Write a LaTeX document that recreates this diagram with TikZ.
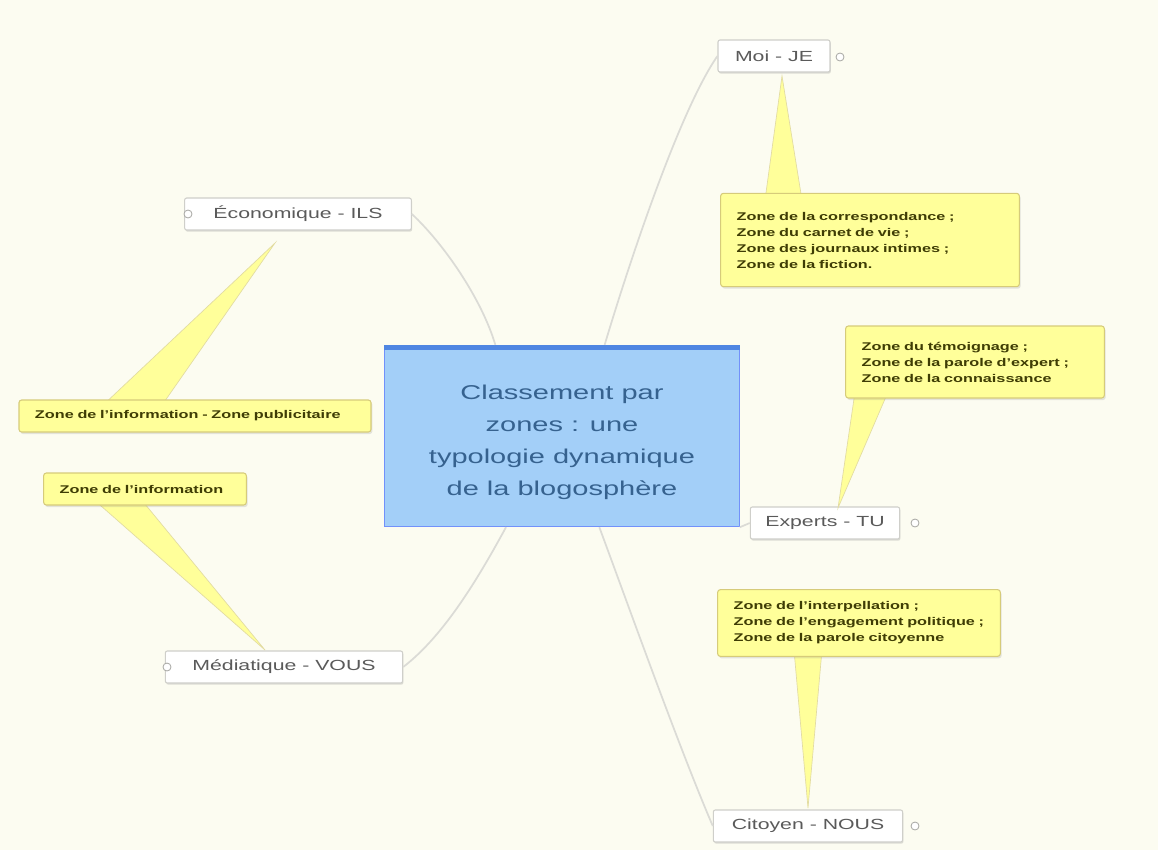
\documentclass[tikz,border=0pt]{standalone}
\usepackage{fontspec}
\setmainfont[FakeStretch=1.45]{Liberation Sans}
\usetikzlibrary{shadows}
\definecolor{paper}{HTML}{FCFCF1}
\definecolor{rootfill}{HTML}{A3CFF8}
\definecolor{rootbar}{HTML}{4F86E2}
\definecolor{roottext}{HTML}{36628F}
\definecolor{notefill}{HTML}{FFFF9A}
\definecolor{noteedge}{HTML}{D6CB7A}
\definecolor{notetext}{HTML}{3F3D05}
\definecolor{linkgray}{HTML}{DBDBD6}
\definecolor{boxedge}{HTML}{CFCFCA}
\definecolor{boxtext}{HTML}{5A5A5A}
\tikzset{
  rootbox/.style={draw=rootfill!70!blue, line width=0.8pt, fill=rootfill, minimum width=266pt, minimum height=136pt},
  rootlabel/.style={align=center, text=roottext, font=\fontsize{15}{24}\selectfont},
  branchbox/.style={draw=boxedge, fill=white, rounded corners=1.5pt, line width=0.8pt, minimum height=24pt,
    text=boxtext, font=\fontsize{11}{13}\selectfont, drop shadow={shadow xshift=0.6pt, shadow yshift=-1.2pt, opacity=0.25}},
  notebox/.style={draw=noteedge, fill=notefill, rounded corners=2pt, line width=0.8pt, align=left,
    text=notetext, font=\fontsize{8.4}{12}\selectfont\bfseries, inner xsep=12pt, inner ysep=6pt, anchor=center,
    drop shadow={shadow xshift=1pt, shadow yshift=-1.5pt, opacity=0.2}},
  tail/.style={fill=notefill, draw=noteedge!70, line width=0.5pt},
  link/.style={draw=linkgray, line width=1.3pt},
  toggle/.style={circle, draw=boxedge!80!black, fill=white, inner sep=0pt, minimum size=6pt, line width=0.6pt}
}
\begin{document}
\begin{tikzpicture}[x=0.75pt, y=-0.75pt]
\useasboundingbox (0,0) rectangle (1158,850);
\fill[paper] (0,0) rectangle (1158,850);

% central topic
\node[rootbox] (root) at (562,436) {};
\fill[rootbar] (root.north west) rectangle ([yshift=-4pt]root.north east);
\node[rootlabel] (title) at (562,442) {Classement par\\zones : une\\typologie dynamique\\de la blogosphère};

% branch topics
\node[branchbox, minimum width=84pt] (moi) at (774,56) {Moi - JE};
\node[branchbox, minimum width=170pt] (eco) at (298,214) {Économique - ILS};
\node[branchbox, minimum width=112pt] (exp) at (825,523) {Experts - TU};
\node[branchbox, minimum width=142pt] (cit) at (808,826) {Citoyen - NOUS};
\node[branchbox, minimum width=178pt] (med) at (284,667) {Médiatique - VOUS};

% collapse toggles
\node[toggle] (tmoi) at (840,57) {};
\node[toggle] (teco) at (188,214) {};
\node[toggle] (texp) at (915,523) {};
\node[toggle] (tcit) at (915,826) {};
\node[toggle] (tmed) at (167,667) {};

% connectors from the central topic
\draw[link] (root.north) ++(-50pt,0) coordinate (r1) (eco.east) .. controls (445,245) and (482,300) .. (r1);
\draw[link] (root.north) ++(32pt,0) coordinate (r2) (moi.west) .. controls (680,110) and (630,260) .. (r2);
\draw[link] (root.south) ++(28pt,0) coordinate (r3) (cit.west) .. controls (680,750) and (630,610) .. (r3);
\draw[link] (root.south) ++(-42pt,0) coordinate (r4) (med.east) .. controls (445,635) and (480,575) .. (r4);
\draw[link] (exp.west) -- (root.south east);

% callout tails
\coordinate (cmoi) at (782,76);
\coordinate (cexp) at (838,508);
\coordinate (ccit) at (808,808);
\coordinate (ceco) at (275,243);
\coordinate (cmed) at (265,650);
\fill[tail] (cmoi) -- (765,200) -- (802,200) -- cycle;
\fill[tail] (cexp) -- (855,392) -- (888,392) -- cycle;
\fill[tail] (ccit) -- (794,650) -- (822,650) -- cycle;
\fill[tail] (ceco) -- (100,408) -- (160,408) -- cycle;
\fill[tail] (cmed) -- (92,498) -- (140,498) -- cycle;

% callout notes
\node[notebox, text width=200pt, minimum height=70pt] (nmoi) at (870,240)
  {Zone de la correspondance ;\\Zone du carnet de vie ;\\Zone des journaux intimes ;\\Zone de la fiction.};
\node[notebox, text width=170pt, minimum height=54pt] (nexp) at (975,362)
  {Zone du témoignage ;\\Zone de la parole d'expert ;\\Zone de la connaissance};
\node[notebox, text width=188pt, minimum height=50pt] (ncit) at (859,623)
  {Zone de l'interpellation ;\\Zone de l'engagement politique ;\\Zone de la parole citoyenne};
\node[notebox, text width=240pt, minimum height=24pt] (neco) at (195,416)
  {Zone de l'information - Zone publicitaire};
\node[notebox, text width=128pt, minimum height=24pt] (nmed) at (145,489)
  {Zone de l'information};
\end{tikzpicture}
\end{document}
